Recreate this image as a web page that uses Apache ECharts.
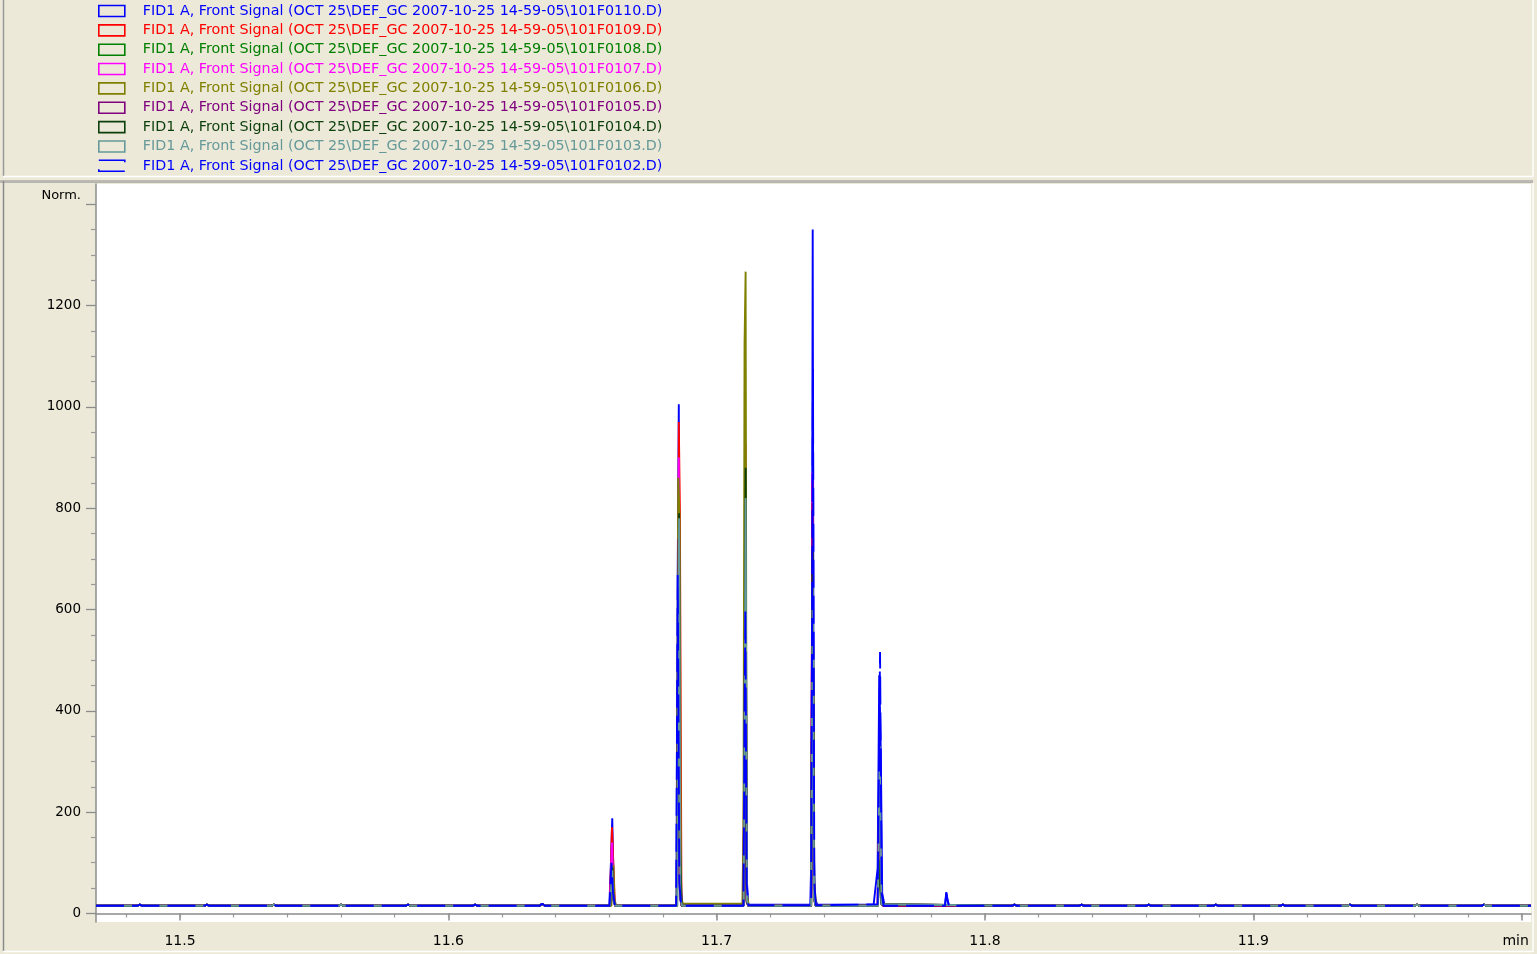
<!DOCTYPE html>
<html>
<head>
<meta charset="utf-8">
<script src="https://cdn.jsdelivr.net/npm/echarts@6/dist/echarts.min.js"></script>
<style>
  html, body { margin: 0; padding: 0; background: #ECE9D8; }
  #chart { width: 1537px; height: 954px; }
</style>
</head>
<body>
<div id="chart"></div>
<script>
// ---------- data ----------
const seriesNames = [
  'FID1 A, Front Signal (OCT 25\\DEF_GC 2007-10-25 14-59-05\\101F0110.D)',
  'FID1 A, Front Signal (OCT 25\\DEF_GC 2007-10-25 14-59-05\\101F0109.D)',
  'FID1 A, Front Signal (OCT 25\\DEF_GC 2007-10-25 14-59-05\\101F0108.D)',
  'FID1 A, Front Signal (OCT 25\\DEF_GC 2007-10-25 14-59-05\\101F0107.D)',
  'FID1 A, Front Signal (OCT 25\\DEF_GC 2007-10-25 14-59-05\\101F0106.D)',
  'FID1 A, Front Signal (OCT 25\\DEF_GC 2007-10-25 14-59-05\\101F0105.D)',
  'FID1 A, Front Signal (OCT 25\\DEF_GC 2007-10-25 14-59-05\\101F0104.D)',
  'FID1 A, Front Signal (OCT 25\\DEF_GC 2007-10-25 14-59-05\\101F0103.D)',
  'FID1 A, Front Signal (OCT 25\\DEF_GC 2007-10-25 14-59-05\\101F0102.D)'
];
const seriesColors = ['#0000ff', '#ff0000', '#008000', '#ff00ff', '#808000', '#800080', '#0b3f0b', '#669999', '#0000ff'];
const dashedSeries = [false, false, false, false, false, false, false, false, true];

// shared baseline (time in min, signal in Norm.)
const baselinePts = [
  [11.4687, 15], [11.4840, 15], [11.4850, 17.5], [11.4860, 15],
  [11.5090, 15], [11.5100, 17.5], [11.5110, 15],
  [11.5340, 15], [11.5350, 17.5], [11.5360, 15],
  [11.5590, 15], [11.5600, 17.5], [11.5610, 15],
  [11.5840, 15], [11.5850, 17.5], [11.5860, 15],
  [11.6090, 15], [11.6100, 17.5], [11.6110, 15],
  [11.6340, 15], [11.6350, 19], [11.6360, 15],
  [11.8100, 15], [11.8110, 17.5], [11.8120, 15],
  [11.8350, 15], [11.8360, 17.5], [11.8370, 15],
  [11.8600, 15], [11.8610, 17.5], [11.8620, 15],
  [11.8850, 15], [11.8860, 17.5], [11.8870, 15],
  [11.9100, 15], [11.9110, 17.5], [11.9120, 15],
  [11.9350, 15], [11.9360, 17.5], [11.9370, 15],
  [11.9600, 15], [11.9610, 17.5], [11.9620, 15],
  [11.9850, 15], [11.9860, 17.5], [11.9870, 15],
  [12.0035, 15]
];

const peaks110 = [
  [11.6600, 15], [11.6606, 100], [11.6611, 188], [11.6617, 30], [11.6624, 15],
  [11.6850, 15], [11.6855, 680], [11.6859, 1005], [11.6864, 75], [11.6871, 16],
  [11.7098, 16], [11.7104, 150], [11.7108, 740], [11.7112, 70], [11.7118, 17],
  [11.7349, 17], [11.7354, 140], [11.7358, 1350], [11.7362, 125], [11.7367, 30], [11.7375, 17],
  [11.7585, 17], [11.7592, 20], [11.7600, 89], [11.7606, 470], [11.7612, 312], [11.7617, 40], [11.7626, 15],
  [11.7851, 15], [11.7856, 42], [11.7860, 28], [11.7866, 15]
];
const peaks109 = [
  [11.6602, 15], [11.6610, 170], [11.6615, 100], [11.6621, 15],
  [11.6851, 15], [11.6855, 90], [11.6859, 970], [11.6863, 800], [11.6869, 15],
  [11.7100, 15], [11.7107, 925], [11.7112, 22], [11.7118, 15],
  [11.7352, 15], [11.7357, 850], [11.7362, 70], [11.7369, 15],
  [11.7600, 15], [11.7607, 250], [11.7613, 20], [11.7620, 15]
];
const peaks108 = [
  [11.6603, 15], [11.6611, 120], [11.6616, 30], [11.6622, 15],
  [11.6852, 15], [11.6859, 860], [11.6864, 40], [11.6870, 15],
  [11.7100, 15], [11.7107, 860], [11.7112, 25], [11.7118, 15],
  [11.7352, 15], [11.7358, 745], [11.7363, 30], [11.7369, 15],
  [11.7601, 15], [11.7608, 150], [11.7614, 18], [11.7620, 15]
];
const peaks107 = [
  [11.6602, 15], [11.6610, 140], [11.6615, 60], [11.6621, 15],
  [11.6851, 15], [11.6855, 85], [11.6859, 900], [11.6864, 35], [11.6870, 15],
  [11.7100, 15], [11.7107, 930], [11.7112, 25], [11.7118, 15],
  [11.7352, 15], [11.7357, 870], [11.7362, 40], [11.7369, 15],
  [11.7601, 15], [11.7608, 200], [11.7614, 18], [11.7620, 15]
];
const peaks106 = [
  [11.6608, 15], [11.6615, 95], [11.6619, 30], [11.6625, 15],
  [11.6851, 15], [11.6857, 860], [11.6862, 780], [11.6867, 30], [11.6875, 19],
  [11.7096, 19], [11.7100, 168], [11.7104, 1123], [11.7108, 1267], [11.7112, 40], [11.7120, 15],
  [11.7353, 15], [11.7358, 700], [11.7364, 60], [11.7371, 15],
  [11.7601, 15], [11.7608, 120], [11.7614, 18], [11.7620, 15]
];
const peaks105 = [
  [11.6603, 15], [11.6611, 90], [11.6616, 25], [11.6622, 15],
  [11.6852, 15], [11.6858, 740], [11.6863, 30], [11.6870, 15],
  [11.7100, 15], [11.7107, 660], [11.7112, 22], [11.7118, 15],
  [11.7352, 15], [11.7357, 810], [11.7362, 30], [11.7369, 15],
  [11.7600, 15], [11.7607, 267], [11.7613, 20], [11.7620, 15]
];
const peaks104 = [
  [11.6603, 15], [11.6611, 90], [11.6616, 25], [11.6622, 15],
  [11.6853, 15], [11.6860, 790], [11.6864, 128], [11.6870, 15],
  [11.7101, 15], [11.7108, 880], [11.7112, 25], [11.7118, 15],
  [11.7352, 15], [11.7358, 720], [11.7363, 30], [11.7369, 15],
  [11.7601, 15], [11.7608, 105], [11.7614, 18], [11.7620, 15]
];
const peaks103 = [
  [11.6603, 15], [11.6611, 85], [11.6616, 25], [11.6622, 15],
  [11.6853, 15], [11.6860, 780], [11.6865, 30], [11.6871, 15],
  [11.7101, 15], [11.7108, 820], [11.7113, 25], [11.7119, 15],
  [11.7352, 15], [11.7358, 650], [11.7363, 30], [11.7369, 15],
  [11.7601, 15], [11.7608, 330], [11.7614, 18], [11.7620, 15]
];
const peaks102 = [
  [11.6601, 15], [11.6608, 100], [11.6614, 40], [11.6621, 15],
  [11.6849, 15], [11.6855, 668], [11.6861, 60], [11.6868, 15],
  [11.7100, 15], [11.7107, 600], [11.7112, 60], [11.7118, 16],
  [11.7352, 16], [11.7359, 1075], [11.7364, 60], [11.7370, 16],
  [11.7600, 18], [11.7609, 516], [11.7615, 40], [11.7622, 15],
  [11.7851, 15], [11.7856, 40], [11.7861, 25], [11.7866, 15]
];
const seriesPeaks = [peaks110, peaks109, peaks108, peaks107, peaks106, peaks105, peaks104, peaks103, peaks102];

// axes
const xMin = 11.4687, xMax = 12.0035;
const yMin = -17, yMax = 1440;
const xMajorTicks = [11.5, 11.6, 11.7, 11.8, 11.9, 12.0];
const xMinorTicks = [11.48, 11.50, 11.52, 11.54, 11.56, 11.58, 11.60, 11.62, 11.64, 11.66, 11.68, 11.70,
  11.72, 11.74, 11.76, 11.78, 11.80, 11.82, 11.84, 11.86, 11.88, 11.90, 11.92, 11.94, 11.96, 11.98, 12.00];
const yMajorTicks = [0, 200, 400, 600, 800, 1000, 1200, 1400];
const yMinorTicks = [50, 100, 150, 250, 300, 350, 450, 500, 550, 650, 700, 750, 850, 900, 950,
  1050, 1100, 1150, 1250, 1300, 1350];

// ---------- chart ----------
const FONT = 'DejaVu Sans';
const chart = echarts.init(document.getElementById('chart'), null, { renderer: 'canvas' });

const series = seriesNames.map((name, i) => ({
  name: name,
  type: 'line',
  xAxisIndex: 0,
  yAxisIndex: 0,
  showSymbol: false,
  symbol: 'none',
  silent: true,
  animation: false,
  lineStyle: { color: seriesColors[i], width: 1.9, type: dashedSeries[i] ? [28, 8] : 'solid' },
  itemStyle: { color: seriesColors[i] },
  data: baselinePts.concat(seriesPeaks[i]).sort((a, b) => a[0] - b[0])
}));

const legendData = seriesNames.map((name, i) => ({
  name: name,
  icon: 'rect',
  itemStyle: {
    color: 'rgba(0,0,0,0)',
    borderColor: seriesColors[i],
    borderWidth: 1.6,
    borderType: dashedSeries[i] ? [28, 9] : 'solid'
  },
  textStyle: { color: seriesColors[i] }
}));

const option = {
  backgroundColor: '#ECE9D8',
  animation: false,
  textStyle: { fontFamily: FONT },
  legend: {
    orient: 'vertical',
    left: 98,
    top: 4,
    padding: 0,
    itemWidth: 26,
    itemHeight: 11,
    itemGap: 5.35,
    selectedMode: false,
    textStyle: { fontFamily: FONT, fontSize: 14.3, lineHeight: 14, padding: [0, 0, 0, 13] },
    data: legendData
  },
  grid: {
    left: 96, right: 6, top: 184, bottom: 32,
    show: true, backgroundColor: '#ffffff', borderWidth: 0
  },
  xAxis: [
    {
      type: 'value', min: xMin, max: xMax, position: 'bottom',
      axisLine: { show: true, lineStyle: { color: '#8c8c8c', width: 1.5 } },
      axisTick: { show: true, inside: false, length: 7, customValues: xMajorTicks, lineStyle: { color: '#8c8c8c', width: 1.5 } },
      axisLabel: {
        show: true, margin: 12, customValues: xMajorTicks,
        color: '#000', fontFamily: FONT, fontSize: 14,
        formatter: v => (v > 11.99 ? '{m|min}' : v.toFixed(1)),
        rich: { m: { fontFamily: FONT, fontSize: 14, color: '#000', padding: [0, 12, 0, 0] } }
      },
      splitLine: { show: false }
    },
    {
      type: 'value', min: xMin, max: xMax, position: 'bottom',
      axisLine: { show: false },
      axisTick: { show: true, inside: false, length: 4, customValues: xMinorTicks, lineStyle: { color: '#999', width: 1.2 } },
      axisLabel: { show: false },
      splitLine: { show: false }
    }
  ],
  yAxis: [
    {
      type: 'value', min: yMin, max: yMax, position: 'left',
      axisLine: { show: true, lineStyle: { color: '#8c8c8c', width: 1.5 } },
      axisTick: { show: true, inside: false, length: 10, customValues: yMajorTicks, lineStyle: { color: '#8c8c8c', width: 1.3 } },
      axisLabel: {
        show: true, margin: 15, customValues: yMajorTicks,
        color: '#000', fontFamily: FONT, fontSize: 13.5,
        formatter: v => (v === 1400 ? '{n|Norm.}' : String(v)),
        rich: { n: { fontFamily: FONT, fontSize: 13, color: '#000', padding: [0, 0, 18, 0] } }
      },
      splitLine: { show: false }
    },
    {
      type: 'value', min: yMin, max: yMax, position: 'left',
      axisLine: { show: false },
      axisTick: { show: true, inside: false, length: 5, customValues: yMinorTicks, lineStyle: { color: '#9a9a9a', width: 1.2 } },
      axisLabel: { show: false },
      splitLine: { show: false }
    }
  ],
  graphic: [
    // legend panel borders
    { type: 'line', silent: true, shape: { x1: 3.5, y1: 0, x2: 3.5, y2: 176 }, style: { stroke: '#9a9a9a', lineWidth: 1.5 } },
    { type: 'line', silent: true, shape: { x1: 1533, y1: 0, x2: 1533, y2: 176 }, style: { stroke: '#ffffff', lineWidth: 1.5 } },
    { type: 'line', silent: true, shape: { x1: 3, y1: 176.5, x2: 1533.5, y2: 176.5 }, style: { stroke: '#ffffff', lineWidth: 1.5 } },
    // separator
    { type: 'line', silent: true, shape: { x1: 0, y1: 181, x2: 1533, y2: 181 }, style: { stroke: '#8a8a8a', lineWidth: 1.2 } },
    { type: 'line', silent: true, shape: { x1: 0, y1: 182.5, x2: 1533, y2: 182.5 }, style: { stroke: '#b4b4b0', lineWidth: 1.2 } },
    // plot panel borders
    { type: 'line', silent: true, shape: { x1: 3.5, y1: 181, x2: 3.5, y2: 951 }, style: { stroke: '#8a8a8a', lineWidth: 1.5 } },
    { type: 'line', silent: true, shape: { x1: 1533, y1: 183, x2: 1533, y2: 952 }, style: { stroke: '#ffffff', lineWidth: 1.5 } },
    { type: 'line', silent: true, shape: { x1: 3, y1: 951.5, x2: 1533.5, y2: 951.5 }, style: { stroke: '#ffffff', lineWidth: 1.5 } }
  ],
  series: series
};

chart.setOption(option);
</script>
</body>
</html>
